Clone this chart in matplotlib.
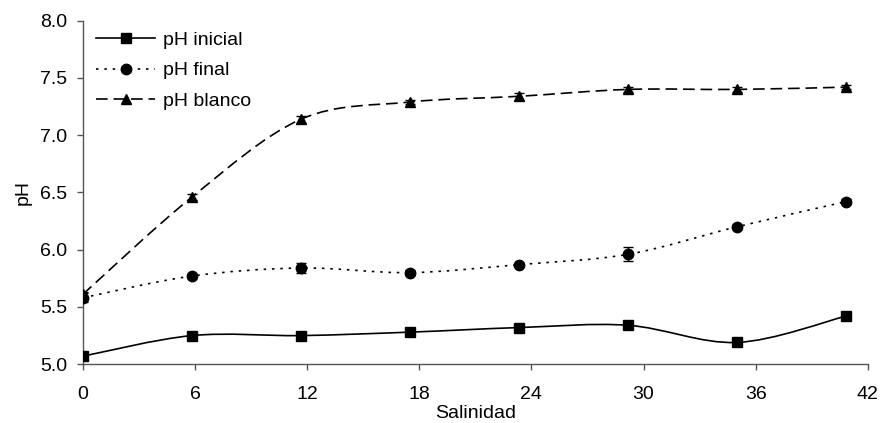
import numpy as np
import matplotlib.pyplot as plt
from matplotlib.path import Path
from matplotlib.patches import PathPatch
from matplotlib.lines import Line2D

plt.rcParams['font.family'] = ['Liberation Sans', 'DejaVu Sans']

salinidad = [0, 5.84, 11.68, 17.5, 23.35, 29.17, 35.0, 40.83]
ph_inicial = [5.07, 5.25, 5.25, 5.28, 5.32, 5.34, 5.19, 5.42]
ph_final = [5.58, 5.77, 5.84, 5.80, 5.87, 5.96, 6.20, 6.42]
ph_blanco = [5.61, 6.46, 7.14, 7.29, 7.34, 7.40, 7.40, 7.42]
err_inicial = [0.01, 0.01, 0.01, 0.01, 0.01, 0.01, 0.01, 0.02]
err_final = [0.04, 0.02, 0.04, 0.02, 0.01, 0.06, 0.02, 0.02]
err_blanco = [0.02, 0.03, 0.03, 0.02, 0.03, 0.02, 0.02, 0.02]


def smooth_path(x, y):
    # cubic Bezier segments with Catmull-Rom style control points
    pts = np.column_stack([x, y])
    n = len(pts)
    verts = [pts[0]]
    codes = [Path.MOVETO]
    for i in range(n - 1):
        p0 = pts[max(i - 1, 0)]
        p1 = pts[i]
        p2 = pts[i + 1]
        p3 = pts[min(i + 2, n - 1)]
        verts += [p1 + (p2 - p0) / 6, p2 - (p3 - p1) / 6, p2]
        codes += [Path.CURVE4] * 3
    return Path(verts, codes)


fig = plt.figure(figsize=(8.81, 4.23), dpi=100)
ax = fig.add_axes([0.094, 0.139, 0.891, 0.812])

series = [
    ("pH inicial", ph_inicial, err_inicial, 's', '-', 7.5),
    ("pH final", ph_final, err_final, 'o', (0, (1.5, 3.5)), 7.5),
    ("pH blanco", ph_blanco, err_blanco, '^', (0, (7, 3.5)), 7.5),
]

handles = []
for label, vals, err, mk, ls, ms in series:
    ax.add_patch(PathPatch(smooth_path(salinidad, vals), facecolor='none',
                           edgecolor='black', lw=1.2, linestyle=ls, zorder=2))
    ax.errorbar(salinidad, vals, yerr=err, fmt=mk, color='black', ms=ms,
                ecolor='black', elinewidth=1, capsize=3.5, capthick=1, zorder=3)
    handles.append(Line2D([], [], color='black', lw=1.2, linestyle=ls,
                          marker=mk, ms=ms))

fs = 14
ax.set_xlim(0, 42)
ax.set_ylim(5.0, 8.0)
ax.set_xticks(range(0, 43, 6))
ax.set_yticks(np.arange(5.0, 8.01, 0.5))
ax.yaxis.set_major_formatter(plt.FormatStrFormatter('%.1f'))
ax.spines['top'].set_visible(False)
ax.spines['right'].set_visible(False)
for s in ('left', 'bottom'):
    ax.spines[s].set_color('#555555')
    ax.spines[s].set_linewidth(1)
ax.tick_params(direction='out', length=4.5, width=1, color='#555555',
               labelsize=fs)
ax.tick_params(axis='x', pad=11)
ax.tick_params(axis='y', pad=6.5)
ax.set_xlabel("Salinidad", fontsize=fs, labelpad=1.5)
ax.set_ylabel("pH", fontsize=fs, labelpad=6)

ax.legend(handles, ["pH inicial", "pH final", "pH blanco"], loc='upper left',
          bbox_to_anchor=(0.0, 1.01), frameon=False, fontsize=fs,
          handlelength=3.0, labelspacing=0.68, handletextpad=0.4,
          borderaxespad=0.3)

fig.savefig("out.png", dpi=100)
